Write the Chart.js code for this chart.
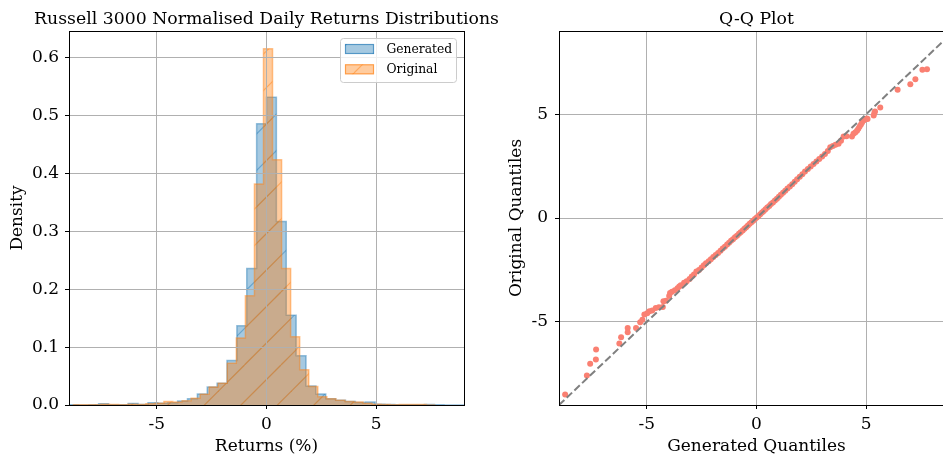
<!DOCTYPE html>
<html><head><meta charset="utf-8">
<script src="https://cdn.jsdelivr.net/npm/chart.js@4.4.1/dist/chart.umd.min.js"></script>
<style>
html,body{margin:0;padding:0;background:#fff;overflow:hidden;width:943px;height:457px;}
#c1{position:absolute;left:0;top:0;}
#c2{position:absolute;left:480px;top:0;}
</style></head><body>
<canvas id="c1" width="540" height="457"></canvas>
<canvas id="c2" width="490" height="457"></canvas>
<script>
// ---------------- data ----------------
const histTitle = 'Russell 3000 Normalised Daily Returns Distributions';
const qqTitle = 'Q-Q Plot';
const seriesNames = ['Generated', 'Original'];
const histXLabel = 'Returns (%)';
const histYLabel = 'Density';
const qqXLabel = 'Generated Quantiles';
const qqYLabel = 'Original Quantiles';

const genBinStart = -9, genBinWidth = 0.45;
const genDensity = [0.0005,0,0.0005,0.002,0.0005,0.0005,0.0025,0.001,0.004,0.003,
  0.004,0.007,0.011,0.019,0.031,0.0375,0.077,0.137,0.236,0.486,
  0.532,0.317,0.155,0.085,0.033,0.019,0.011,0.008,0.006,0.0045,
  0.005,0.0015,0.001,0.0003,0.0005,0.0005,0.0008,0.0005,0,0];

const origBinStart = -8.8, origBinWidth = 0.4125;
const origDensity = [0.0005,0.0005,0.0005,0.0015,0.001,0.0005,0.0015,0.001,0.002,0.003,
  0.006,0.005,0.0075,0.0115,0.0185,0.031,0.0375,0.072,0.116,0.189,
  0.382,0.616,0.424,0.236,0.118,0.061,0.032,0.0144,0.011,0.008,
  0.006,0.005,0.003,0.0015,0.0008,0.0005,0.0008,0.0008,0.0008,0];

const histXTicks = [-5, 0, 5];
const histYTicks = [0, 0.1, 0.2, 0.3, 0.4, 0.5, 0.6];
const qqXTicks = [-5, 0, 5];
const qqYTicks = [-5, 0, 5];

const qqGenerated = [-8.72,-7.73,-7.58,-7.32,-7.31,-6.25,-6.17,-5.87,-5.87,-5.49,-5.30,-5.20,-5.11,-4.98,-4.88,-4.75,-4.59,-4.45,-4.27,-4.24,-4.12,-3.98,-3.94,-3.85,-3.72,-3.60,-3.52,-3.45,-3.30,-3.18,-3.05,-2.95,-2.85,-2.74,-2.62,-2.50,-2.40,-2.30,-2.18,-2.08,-1.97,-1.86,-1.75,-1.64,-1.54,-1.44,-1.34,-1.25,-1.16,-1.07,-0.98,-0.89,-0.80,-0.72,-0.63,-0.55,-0.47,-0.39,-0.31,-0.23,-0.15,-0.07,0.01,0.09,0.17,0.25,0.33,0.41,0.49,0.58,0.66,0.75,0.84,0.93,1.02,1.11,1.21,1.31,1.41,1.52,1.63,1.74,1.85,1.97,2.09,2.21,2.34,2.47,2.60,2.73,2.86,2.99,3.12,3.25,3.36,3.48,3.60,3.74,3.85,3.97,4.10,4.35,4.42,4.50,4.58,4.64,4.70,4.76,4.81,4.90,5.03,5.06,5.34,5.37,5.40,5.64,6.43,7.01,7.24,7.56,7.77];
const qqOriginal = [-8.50,-7.58,-7.02,-6.81,-6.33,-6.04,-5.74,-5.50,-5.29,-5.29,-5.02,-4.90,-4.65,-4.58,-4.49,-4.45,-4.33,-4.30,-4.28,-4.01,-3.98,-3.75,-3.61,-3.55,-3.48,-3.38,-3.30,-3.24,-3.12,-3.05,-2.93,-2.82,-2.72,-2.58,-2.50,-2.38,-2.27,-2.18,-2.08,-1.98,-1.88,-1.78,-1.68,-1.58,-1.47,-1.38,-1.28,-1.19,-1.10,-1.02,-0.93,-0.85,-0.76,-0.68,-0.60,-0.52,-0.44,-0.36,-0.28,-0.21,-0.13,-0.05,0.03,0.10,0.18,0.26,0.34,0.42,0.50,0.58,0.67,0.75,0.84,0.93,1.02,1.12,1.21,1.31,1.42,1.52,1.63,1.75,1.86,1.98,2.11,2.24,2.36,2.48,2.60,2.72,2.84,2.96,3.08,3.22,3.40,3.46,3.52,3.57,3.72,3.92,3.94,3.92,4.05,4.12,4.20,4.30,4.40,4.50,4.60,4.70,4.79,4.76,4.93,5.05,5.13,5.32,6.17,6.44,6.68,7.13,7.16];
const refLineEnds = [-9, 9];

// ---------------- styling helpers ----------------
const FONT = "'DejaVu Serif', serif";
const FS = 17;
Chart.defaults.color = '#000';
Chart.defaults.font.family = FONT;

function hatchPattern(ctx, rgb){
  const t = 73, c = document.createElement('canvas');
  c.width = t; c.height = t;
  const x = c.getContext('2d');
  x.fillStyle = `rgba(${rgb},0.4)`; x.fillRect(0,0,t,t);
  x.strokeStyle = `rgba(${rgb},0.45)`; x.lineWidth = 1.2;
  for (let k = -4; k < 9; k++){
    const K = 25.5 + 36.5*k;
    x.beginPath(); x.moveTo(K,0); x.lineTo(K-t,t); x.stroke();
  }
  return ctx.createPattern(c, 'repeat');
}

function histPoints(start, width, dens){
  const pts = [{x:start, y:0}];
  dens.forEach((d,i)=>pts.push({x:start+i*width, y:d}));
  pts.push({x:start+dens.length*width, y:0});
  return pts;
}

const frameGrid = {
  id:'frameGrid',
  afterDatasetsDraw(chart, args, o){
    const a = chart.chartArea, ctx = chart.ctx;
    if (o.gridOnTop){ chart.scales.x.drawGrid(a); chart.scales.y.drawGrid(a); }
    ctx.save(); ctx.strokeStyle = '#000'; ctx.lineWidth = 1;
    ctx.strokeRect(Math.round(a.left)+0.5, Math.round(a.top)+0.5, Math.round(a.right-a.left), Math.round(a.bottom-a.top));
    ctx.restore();
  }
};
const topTitle = {
  id:'topTitle',
  afterDraw(chart, args, o){
    const a = chart.chartArea, ctx = chart.ctx;
    ctx.save(); ctx.font = `${o.size}px ${FONT}`; ctx.fillStyle = '#000';
    ctx.textAlign = 'center'; ctx.textBaseline = 'alphabetic';
    ctx.fillText(o.text, (a.left+a.right)/2, o.baseline);
    ctx.restore();
  }
};
const boxLegend = {
  id:'boxLegend',
  afterDraw(chart, args, o){
    if (!o.items) return;
    const ctx = chart.ctx;
    ctx.save();
    ctx.beginPath(); ctx.roundRect(340.5, 38.5, 116, 44, 3);
    ctx.fillStyle = 'rgba(255,255,255,0.8)'; ctx.fill();
    ctx.strokeStyle = '#cccccc'; ctx.lineWidth = 1; ctx.stroke();
    o.items.forEach((it,i)=>{
      const y = 44 + i*20.3;
      ctx.fillStyle = it.fill; ctx.fillRect(345, y, 29, 10);
      ctx.strokeStyle = it.edge; ctx.lineWidth = 1.2; ctx.strokeRect(345.5, y+0.5, 28, 9);
      ctx.fillStyle = '#000'; ctx.font = `12.3px ${FONT}`; ctx.textBaseline = 'middle'; ctx.textAlign = 'left';
      ctx.fillText(it.label, 386.5, y+5.5);
    });
    ctx.restore();
  }
};

function axis(opts){
  return {
    type:'linear', min:opts.min, max:opts.max,
    afterBuildTicks: s => { s.ticks = opts.ticks.map(v=>({value:v})); },
    ticks:{ font:{family:FONT,size:FS}, color:'#000', padding:opts.tpad, callback: opts.fmt },
    grid:{ color:'#b0b0b0', lineWidth:1, tickLength:4, tickColor:'#000', tickWidth:1 },
    border:{ display:false },
    title:{ display:true, text:opts.title, font:{family:FONT,size:FS}, color:'#000', padding:opts.titlePad },
    afterFit: opts.fit
  };
}

// ---------------- histogram ----------------
const ctx1 = document.getElementById('c1').getContext('2d');
const blueRGB = '31,119,180', orangeRGB = '255,127,14';
const bluePat = hatchPattern(ctx1, blueRGB), orangePat = hatchPattern(ctx1, orangeRGB);

new Chart(ctx1, {
  type:'line',
  data:{ datasets:[
    { label:seriesNames[1], data:histPoints(origBinStart, origBinWidth, origDensity), stepped:true,
      fill:'origin', backgroundColor:orangePat, borderColor:`rgba(${orangeRGB},0.45)`, borderWidth:1.5, pointRadius:0, tension:0 },
    { label:seriesNames[0], data:histPoints(genBinStart, genBinWidth, genDensity), stepped:true,
      fill:'origin', backgroundColor:bluePat, borderColor:`rgba(${blueRGB},0.45)`, borderWidth:1.5, pointRadius:0, tension:0 }
  ]},
  options:{
    responsive:false, animation:false, devicePixelRatio:1,
    layout:{ padding:{ left:0, right:76, top:31, bottom:0 } },
    scales:{
      x: axis({min:-9, max:9, ticks:histXTicks, tpad:5, fmt:v=>String(v), title:histXLabel, titlePad:{top:0,bottom:0}, fit:s=>{s.height=52;}}),
      y: axis({min:0, max:0.6465, ticks:histYTicks, tpad:6, fmt:v=>v.toFixed(1), title:histYLabel, titlePad:{top:7,bottom:0}, fit:s=>{s.width=69;}})
    },
    plugins:{
      legend:{display:false}, tooltip:{enabled:false},
      frameGrid:{ gridOnTop:true },
      topTitle:{ text:histTitle, size:17.3, baseline:24 },
      boxLegend:{ items:[
        { label:seriesNames[0], fill:bluePat, edge:`rgba(${blueRGB},0.6)` },
        { label:seriesNames[1], fill:orangePat, edge:`rgba(${orangeRGB},0.6)` }
      ]}
    }
  },
  plugins:[frameGrid, topTitle, boxLegend]
});

// ---------------- Q-Q plot ----------------
const ctx2 = document.getElementById('c2').getContext('2d');
new Chart(ctx2, {
  type:'scatter',
  data:{ datasets:[
    { data:refLineEnds.map(v=>({x:v,y:v})), showLine:true, borderColor:'#808080', borderWidth:2,
      borderDash:[7.4,3.2], pointRadius:0, fill:false },
    { data:qqGenerated.map((g,i)=>({x:g, y:qqOriginal[i]})), backgroundColor:'#fa8072', borderColor:'#fa8072',
      pointRadius:3, pointBorderWidth:0, showLine:false }
  ]},
  options:{
    responsive:false, animation:false, devicePixelRatio:1,
    layout:{ padding:{ left:0, right:16, top:31, bottom:0 } },
    scales:{
      x: axis({min:-9, max:9, ticks:qqXTicks, tpad:5, fmt:v=>String(v), title:qqXLabel, titlePad:{top:0,bottom:0}, fit:s=>{s.height=52;}}),
      y: axis({min:-9, max:9, ticks:qqYTicks, tpad:7, fmt:v=>String(v), title:qqYLabel, titlePad:{top:26,bottom:0}, fit:s=>{s.width=79;}})
    },
    plugins:{
      legend:{display:false}, tooltip:{enabled:false},
      frameGrid:{ gridOnTop:false },
      topTitle:{ text:qqTitle, size:17.3, baseline:24 }
    }
  },
  plugins:[frameGrid, topTitle]
});
</script>
</body></html>
